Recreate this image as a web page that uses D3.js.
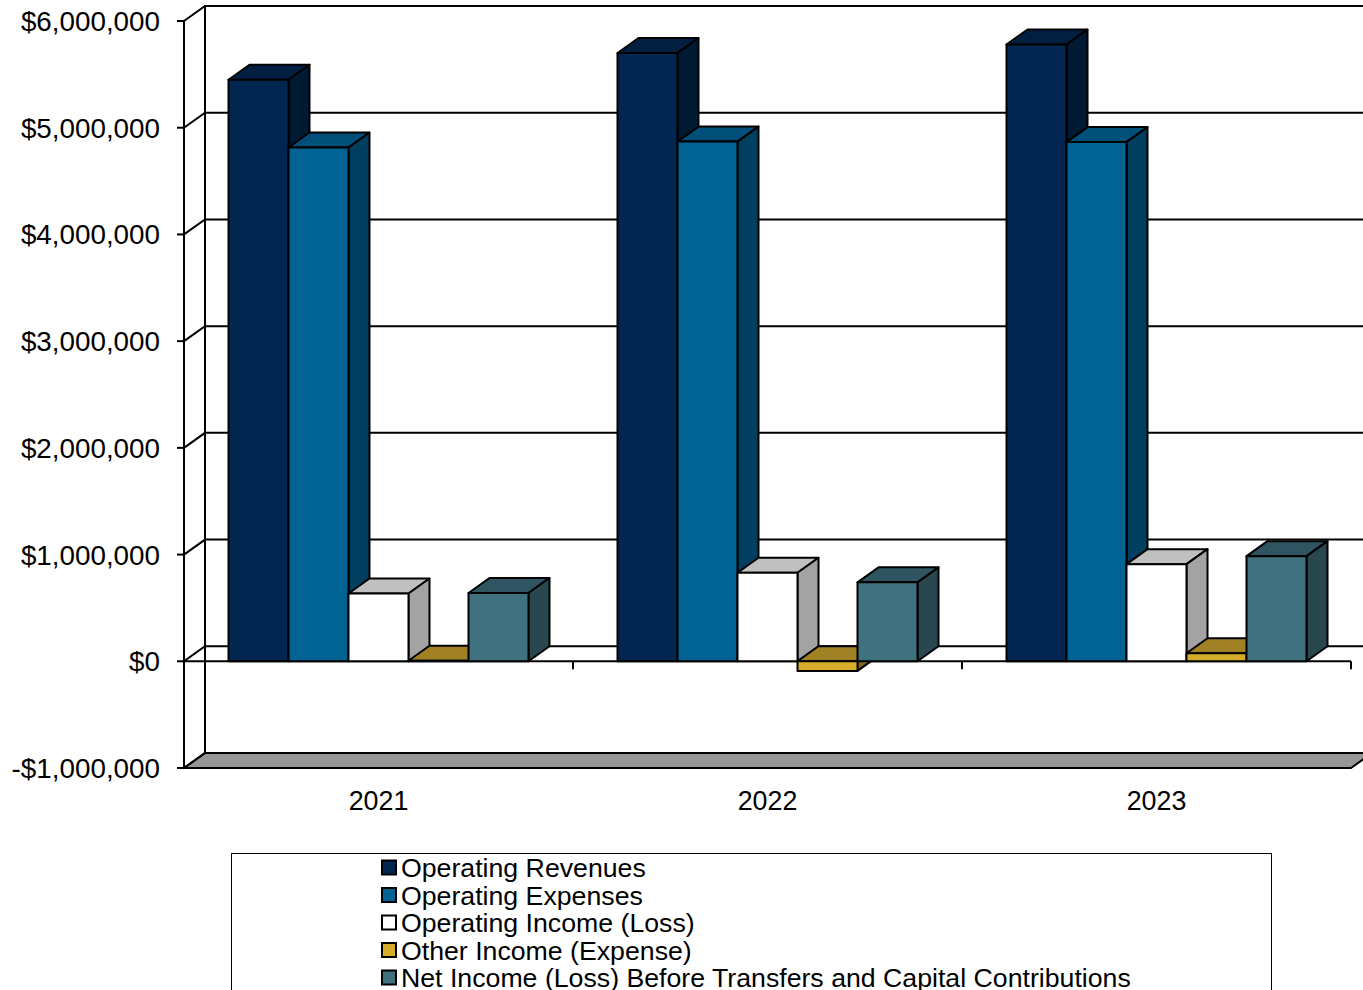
<!DOCTYPE html>
<html>
<head>
<meta charset="utf-8">
<script src="https://cdn.jsdelivr.net/npm/d3@7"></script>
<style>
  html, body { margin: 0; padding: 0; background: #fff; }
  svg { display: block; font-family: "Liberation Sans", Arial, sans-serif; }
</style>
</head>
<body>
<svg id="chart" width="1363" height="990"></svg>
<script>
// Fiscal years and series
const years = ["2021", "2022", "2023"];
const seriesNames = [
  "Operating Revenues",
  "Operating Expenses",
  "Operating Income (Loss)",
  "Other Income (Expense)",
  "Net Income (Loss) Before Transfers and Capital Contributions"
];
const operatingRevenues = [5450000, 5700000, 5780000];
const operatingExpenses = [4815000, 4870000, 4865000];
const operatingIncome   = [635000, 830000, 910000];
const otherIncome       = [5000, -90000, 75000];
const netIncome         = [640000, 740000, 985000];
const yTicks = [-1000000, 0, 1000000, 2000000, 3000000, 4000000, 5000000, 6000000];

const seriesValues = [operatingRevenues, operatingExpenses, operatingIncome, otherIncome, netIncome];

// face colours: front, top, side
const palette = [
  { front: "#02264f", top: "#011f40", side: "#011a33" },
  { front: "#006394", top: "#004f78", side: "#003f5f" },
  { front: "#ffffff", top: "#c0c0c0", side: "#a3a3a3" },
  { front: "#d6ad29", top: "#a08224", side: "#806818" },
  { front: "#3f717e", top: "#2f5563", side: "#29474f" }
];

const svg = d3.select("#chart");

// plot frame (front plane) and depth offset
const plotLeft = 184, plotRight = 1351, plotTop = 21, plotBottom = 768;
const dx = 21, dy = -15;

const y = d3.scaleLinear().domain([-1000000, 6000000]).range([plotBottom, plotTop]);
const x0 = d3.scaleBand().domain(years).range([plotLeft, plotRight]);
const groupPad = (x0.bandwidth() - 300) / 2;
const x1 = d3.scaleBand().domain(d3.range(seriesNames.length)).range([groupPad, groupPad + 300]);

const fmt = v => (v < 0 ? "-$" : "$") + d3.format(",")(Math.abs(v));
const pts = a => a.map(p => p.join(",")).join(" ");

const g = svg.append("g");

// back wall
g.append("polygon")
  .attr("points", pts([[plotLeft + dx, plotTop + dy], [plotRight + dx + 40, plotTop + dy], [plotRight + dx + 40, plotBottom + dy], [plotLeft + dx, plotBottom + dy]]))
  .attr("fill", "#fff");

// floor
g.append("polygon")
  .attr("points", pts([[plotLeft, plotBottom], [plotRight, plotBottom], [plotRight + dx, plotBottom + dy], [plotLeft + dx, plotBottom + dy]]))
  .attr("fill", "#969696").attr("stroke", "#000").attr("stroke-width", 2).attr("stroke-linejoin", "round");

// gridlines on left wall and back wall
yTicks.forEach(t => {
  const yy = y(t);
  g.append("polyline")
    .attr("points", pts([[plotLeft, yy], [plotLeft + dx, yy + dy], [plotRight + dx + 40, yy + dy]]))
    .attr("fill", "none").attr("stroke", "#000").attr("stroke-width", 2);
});

// wall edges
g.append("line").attr("x1", plotLeft + dx).attr("x2", plotLeft + dx)
  .attr("y1", plotTop + dy).attr("y2", plotBottom + dy).attr("stroke", "#000").attr("stroke-width", 2);
g.append("line").attr("x1", plotLeft).attr("x2", plotLeft)
  .attr("y1", plotTop).attr("y2", plotBottom).attr("stroke", "#000").attr("stroke-width", 2);

// value axis ticks and labels
yTicks.forEach(t => {
  const yy = y(t);
  g.append("line").attr("x1", plotLeft - 7).attr("x2", plotLeft).attr("y1", yy).attr("y2", yy)
    .attr("stroke", "#000").attr("stroke-width", 2);
  g.append("text").attr("x", 160).attr("y", yy).attr("dy", "0.36em")
    .attr("text-anchor", "end").attr("font-size", 27.8).text(fmt(t));
});

// category axis along zero
const y0 = y(0);
g.append("line").attr("x1", plotLeft).attr("x2", plotRight).attr("y1", y0).attr("y2", y0)
  .attr("stroke", "#000").attr("stroke-width", 2);
[plotLeft].concat(years.map(d => x0(d) + x0.bandwidth())).forEach(xx => {
  g.append("line").attr("x1", xx).attr("x2", xx).attr("y1", y0).attr("y2", y0 + 8)
    .attr("stroke", "#000").attr("stroke-width", 2);
});
years.forEach(d => {
  g.append("text").attr("x", x0(d) + x0.bandwidth() / 2).attr("y", 800).attr("dy", "0.36em")
    .attr("text-anchor", "middle").attr("font-size", 26.8).text(d);
});

// 3D columns
const bars = g.append("g").attr("stroke", "#000").attr("stroke-width", 2).attr("stroke-linejoin", "round");
years.forEach((yr, i) => {
  seriesValues.forEach((vals, s) => {
    const v = vals[i];
    const xa = x0(yr) + x1(s), xb = xa + x1.bandwidth();
    const yt = y(Math.max(v, 0)), yb = y(Math.min(v, 0));
    const c = palette[s];
    bars.append("polygon")
      .attr("points", pts([[xa, yt], [xb, yt], [xb + dx, yt + dy], [xa + dx, yt + dy]]))
      .attr("fill", c.top);
    bars.append("polygon")
      .attr("points", pts([[xb, yt], [xb + dx, yt + dy], [xb + dx, yb + dy], [xb, yb]]))
      .attr("fill", c.side);
    bars.append("rect")
      .attr("x", xa).attr("y", yt).attr("width", xb - xa).attr("height", Math.max(yb - yt, 0))
      .attr("fill", c.front);
  });
});

// legend
const lg = svg.append("g");
lg.append("rect").attr("x", 231.5).attr("y", 853.5).attr("width", 1040).attr("height", 200)
  .attr("fill", "#fff").attr("stroke", "#000").attr("stroke-width", 1);
seriesNames.forEach((name, s) => {
  const cy = 867.5 + s * 27.5;
  lg.append("rect").attr("x", 382).attr("y", cy - 7).attr("width", 14).attr("height", 14)
    .attr("fill", palette[s].front).attr("stroke", "#000").attr("stroke-width", 2);
  lg.append("text").attr("x", 401).attr("y", cy).attr("dy", "0.36em")
    .attr("font-size", 26.7).text(name);
});
</script>
</body>
</html>
